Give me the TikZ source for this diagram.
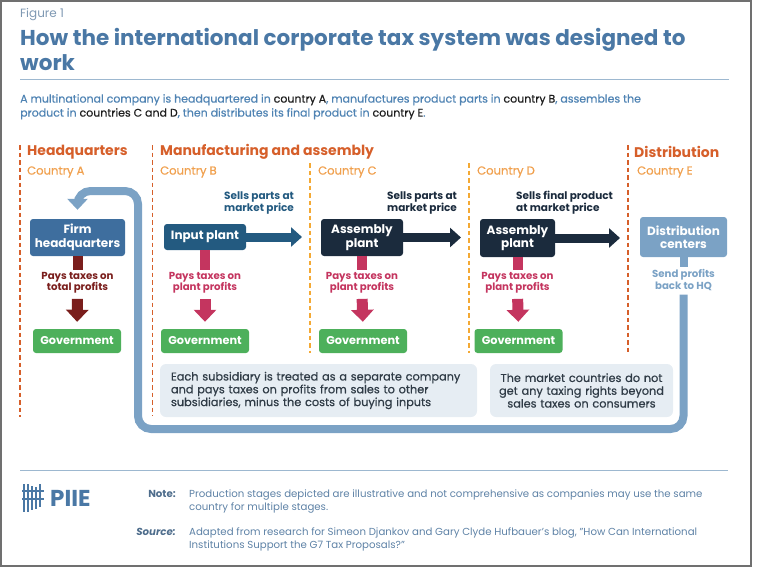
\documentclass[tikz,border=0pt]{standalone}
\usepackage{fontspec}
\setmainfont{Poppins}
\newfontfamily\medium{Poppins}[FakeBold=0.6]
\usetikzlibrary{positioning,arrows.meta}

\definecolor{titleblue}{HTML}{4A78A5}
\definecolor{figgray}{HTML}{7F99B3}
\definecolor{rulecol}{HTML}{9DB8D0}
\definecolor{subblue}{HTML}{4F83B3}
\definecolor{ink}{HTML}{1E1E1E}
\definecolor{headorange}{HTML}{D65F2A}
\definecolor{countryorange}{HTML}{F0A04E}
\definecolor{lightdash}{HTML}{F4A934}
\definecolor{hqblue}{HTML}{3E6E9E}
\definecolor{inputblue}{HTML}{235A80}
\definecolor{navy}{HTML}{1B2B3D}
\definecolor{distblue}{HTML}{7BA2C5}
\definecolor{hqred}{HTML}{7A1E1C}
\definecolor{taxred}{HTML}{C4355F}
\definecolor{govgreen}{HTML}{4DB05B}
\definecolor{boxgray}{HTML}{E6EDF3}
\definecolor{inkgray}{HTML}{2F3B46}
\definecolor{notelabel}{HTML}{4E6D8C}
\definecolor{notetext}{HTML}{5E82A6}
\definecolor{framegray}{HTML}{707070}

\begin{document}
\begin{tikzpicture}[x=1pt,y=-1pt,
    every node/.style={inner sep=0pt},
    plant/.style={rounded corners=3pt,text=white,align=center,font=\bfseries\fontsize{12}{13.5}\selectfont},
    govt/.style={fill=govgreen,rounded corners=3pt,text=white,minimum width=88pt,minimum height=24pt,font=\bfseries\fontsize{11.3}{12}\selectfont},
    taxnote/.style={align=center,font=\bfseries\fontsize{10.2}{11.5}\selectfont},
    sells/.style={align=left,anchor=south west,font=\bfseries\fontsize{10.5}{12}\selectfont},
    flow/.style={line width=9pt,-{Triangle[width=19pt,length=11pt]}},
    taxbar/.style={line width=10pt,shorten >=2pt},
    taxarrow/.style={line width=11pt,-{Triangle[width=22pt,length=12pt]},shorten <=5pt,shorten >=7pt},
    divider/.style={line width=1.8pt,dash pattern=on 4.5pt off 3pt},
    heading/.style={anchor=west,text=headorange,font=\bfseries\fontsize{14}{15}\selectfont},
    country/.style={anchor=west,text=countryorange,font=\medium\fontsize{11.6}{13}\selectfont},
    infobox/.style={fill=boxgray,rounded corners=6pt,minimum height=53pt,text=inkgray,font=\medium\fontsize{11.3}{12.8}\selectfont}]
  \useasboundingbox (0,0) rectangle (757,567);
  \draw[framegray,line width=2pt] (1,1) rectangle (751,566);

  % title block
  \node[anchor=west,text=figgray,font=\fontsize{12}{13}\selectfont] (fig) at (20,15) {Figure 1};
  \node[anchor=north west,align=left,text=titleblue,font=\bfseries\fontsize{21.5}{25}\selectfont] (title) at (20,28)
    {How the international corporate tax system was designed to\\work};
  \draw[rulecol,line width=1pt] (20,80) -- (729,80);
  \node[anchor=north west,align=left,text=subblue,font=\medium\fontsize{11}{14}\selectfont] (sub) at (20,94)
    {A multinational company is headquartered in \textcolor{ink}{country A}, manufactures product parts in \textcolor{ink}{country B}, assembles the\\
     product in \textcolor{ink}{countries C and D}, then distributes its final product in \textcolor{ink}{country E}.};

  % columns
  \draw[divider,headorange] (20,145) -- (20,417);
  \draw[divider,headorange] (152.5,145) -- (152.5,416);
  \draw[divider,lightdash] (310,163) -- (310,353);
  \draw[divider,lightdash] (469,163) -- (469,353);
  \draw[divider,headorange] (628,145) -- (628,353);
  \node[heading] (hhq) at (27,152) {Headquarters};
  \node[heading] (hman) at (160,152) {Manufacturing and assembly};
  \node[heading] (hdist) at (634,152) {Distribution};
  \node[country] (ca) at (27,172) {Country A};
  \node[country] (cb) at (160,172) {Country B};
  \node[country] (cc) at (318,172) {Country C};
  \node[country] (cd) at (477,172) {Country D};
  \node[country] (ce) at (637,172) {Country E};

  % plants
  \node[plant,fill=hqblue,minimum width=95pt,minimum height=37pt] (hq) at (77.5,237.5) {Firm\\headquarters};
  \node[plant,fill=inputblue,minimum width=82pt,minimum height=26pt] (input) at (205,237) {Input plant};
  \node[plant,fill=navy,minimum width=82pt,minimum height=37pt] (asmC) at (362,237.5) {Assembly\\plant};
  \node[plant,fill=navy,minimum width=75pt,minimum height=38pt] (asmD) at (517.5,238) {Assembly\\plant};
  \node[plant,fill=distblue,minimum width=87pt,minimum height=40pt] (dist) at (683.5,237) {Distribution\\centers};

  \coordinate (tipB) at (302,237);
  \coordinate (tipC) at (461,237.5);
  \coordinate (tipD) at (620,238);
  \draw[flow,inputblue] (input.east) -- (tipB);
  \draw[flow,navy] (asmC.east) -- (tipC);
  \draw[flow,navy] (asmD.east) -- (tipD);
  \node[sells,text=inputblue] (sellB) at (224,214) {Sells parts at\\market price};
  \node[sells,text=navy] (sellC) at (387,214) {Sells parts at\\market price};
  \node[sells,text=navy] (sellD) at (516,214) {Sells final product\\at market price};

  % taxes
  \node[taxnote,text=hqred] (taxA) at (77.5,283) {Pays taxes on\\total profits};
  \node[taxnote,text=taxred] (taxB) at (205,283) {Pays taxes on\\plant profits};
  \node[taxnote,text=taxred] (taxC) at (362,283) {Pays taxes on\\plant profits};
  \node[taxnote,text=taxred] (taxD) at (517.5,283) {Pays taxes on\\plant profits};
  \node[govt] (govA) at (77,341) {Government};
  \node[govt] (govB) at (205,341) {Government};
  \node[govt] (govC) at (363,341) {Government};
  \node[govt] (govD) at (518.5,341) {Government};
  \draw[taxbar,hqred] (hq.south) -- (taxA.north);
  \draw[taxarrow,hqred] (taxA.south) -- (govA.north);
  \foreach \p/\t/\g in {input/taxB/govB,asmC/taxC/govC,asmD/taxD/govD}{
    \draw[taxbar,taxred] (\p.south) -- (\t.north);
    \draw[taxarrow,taxred] (\t.south) -- (\g.north);
  }

  % profits back to HQ
  \node[taxnote,text=distblue] (send) at (683.5,280) {Send profits\\back to HQ};
  \draw[distblue,line width=8pt,shorten >=2pt] (dist.south) -- (send.north);
  \coordinate (loopBL) at (138,429);
  \coordinate (loopTL) at (138,191);
  \draw[distblue,line width=8pt,rounded corners=13pt,shorten <=4pt,shorten >=9pt,-{Triangle[width=20pt,length=11pt]}]
    (send.south) |- (loopBL) -- (loopTL) -| (hq.north);

  % explanations
  \node[infobox,minimum width=317pt,text width=295pt,align=left] (each) at (318.5,390.5)
    {Each subsidiary is treated as a separate company\\and pays taxes on profits from sales to other\\subsidiaries, minus the costs of buying inputs};
  \node[infobox,minimum width=183pt,text width=175pt,align=center] (market) at (581.5,390.5)
    {The market countries do not\\get any taxing rights beyond\\sales taxes on consumers};

  % footer
  \draw[rulecol,line width=1pt] (20,470) -- (728,470);
  \foreach \x/\t/\b in {24/484/512,28/484/512,32/486/510,36/487/509,40/484/507}
    \draw[titleblue,line width=2.4pt] (\x,\t) -- (\x,\b);
  \draw[titleblue,line width=1.2pt] (22,491) -- (44,491) (22,499) -- (44,499);
  \node[anchor=west,text=titleblue,font=\bfseries\fontsize{23}{24}\selectfont] (piie) at (50,498) {PIIE};
  \node[anchor=north east,text=notelabel,font=\bfseries\fontsize{10.2}{13}\selectfont] (notel) at (176,490) {Note:};
  \node[anchor=north west,align=left,text=notetext,font=\fontsize{10.2}{13}\selectfont] (note) at (189,490)
    {Production stages depicted are illustrative and not comprehensive as companies may use the same\\country for multiple stages.};
  \node[anchor=north east,text=notelabel,font=\bfseries\itshape\fontsize{10.2}{13}\selectfont] (srcl) at (176,528) {Source:};
  \node[anchor=north west,align=left,text=notetext,font=\fontsize{10.2}{13}\selectfont] (src) at (189,528)
    {Adapted from research for Simeon Djankov and Gary Clyde Hufbauer's blog, "How Can International\\Institutions Support the G7 Tax Proposals?"};
\end{tikzpicture}
\end{document}
